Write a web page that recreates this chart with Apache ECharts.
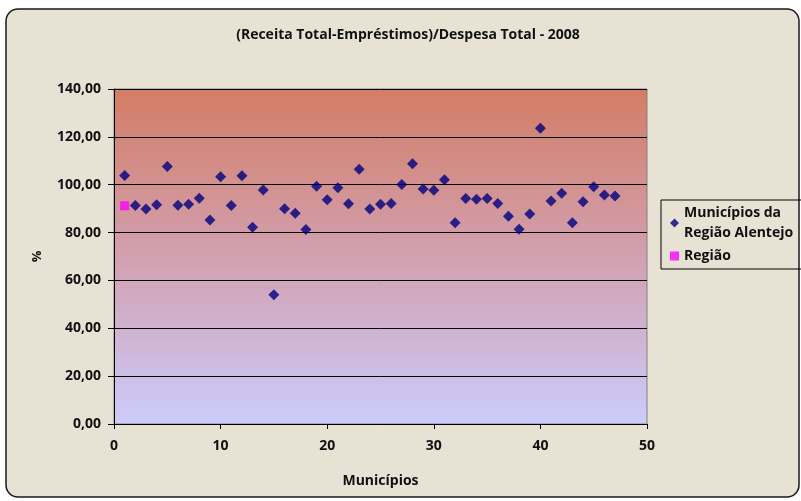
<!DOCTYPE html>
<html>
<head>
<meta charset="utf-8">
<script src="https://cdn.jsdelivr.net/npm/echarts@6/dist/echarts.min.js"></script>
<style>
  html, body { margin: 0; padding: 0; background: #ffffff; }
  #container { width: 801px; height: 501px; }
</style>
</head>
<body>
<div id="container"></div>
<script>
// (Receita Total-Empréstimos)/Despesa Total, por município
const municipios = [
  103.8, 91.3, 89.8, 91.6, 107.6, 91.4, 91.8, 94.3, 85.3, 103.3,
  91.3, 103.7, 82.2, 97.8, 54.0, 90.0, 88.1, 81.3, 99.4, 93.7,
  98.7, 92.0, 106.5, 89.8, 91.8, 92.1, 100.1, 108.8, 98.2, 97.7,
  102.1, 84.1, 94.2, 93.9, 94.2, 92.1, 86.8, 81.4, 87.8, 123.6,
  93.2, 96.4, 84.1, 92.9, 99.1, 95.7, 95.3
];
const regiao = [[1, 91.2]];
const yTicks = [0, 20, 40, 60, 80, 100, 120, 140];
const xTicks = [0, 10, 20, 30, 40, 50];

const font = "'Open Sans', Lato, sans-serif";

const myChart = echarts.init(document.getElementById("container"), null, {
  renderer: "canvas",
});

const option = {
  backgroundColor: "#ffffff",
  textStyle: { fontFamily: font },
  graphic: [
    {
      type: "rect",
      z: -100,
      silent: true,
      shape: { x: 6, y: 9, width: 793, height: 488, r: 12 },
      style: { fill: "#e8e2d5", stroke: "#1a1a1a", lineWidth: 1.5 },
    },
  ],
  title: {
    text: "(Receita Total-Empréstimos)/Despesa Total - 2008",
    left: 403,
    textAlign: "center",
    top: 23,
    textStyle: { fontFamily: font, fontSize: 14, fontWeight: "bold", color: "#111" },
  },
  legend: {
    orient: "vertical",
    left: 661,
    top: 200,
    padding: [3, 12, 3, 9],
    itemGap: 3,
    itemWidth: 9,
    itemHeight: 9,
    borderColor: "#000",
    borderWidth: 1,
    textStyle: { fontFamily: font, fontSize: 14, fontWeight: "bold", color: "#111", lineHeight: 20 },
    formatter: (name) =>
      name === "Municípios da Região Alentejo" ? "Municípios da\nRegião Alentejo" : name,
    data: [
      { name: "Municípios da Região Alentejo", icon: "diamond" },
      { name: "Região", icon: "rect" },
    ],
  },
  grid: {
    left: 114,
    right: 154,
    top: 89,
    bottom: 77,
    show: true,
    borderColor: "#808080",
    borderWidth: 1,
    backgroundColor: new echarts.graphic.LinearGradient(0, 0, 0, 1, [
      { offset: 0, color: "#d37d65" },
      { offset: 0.5, color: "#d2a0b0" },
      { offset: 1, color: "#ccccfb" },
    ]),
  },
  xAxis: {
    type: "value",
    min: xTicks[0],
    max: xTicks[xTicks.length - 1],
    interval: 10,
    name: "Municípios",
    nameLocation: "middle",
    nameGap: 50,
    nameTextStyle: { fontFamily: font, fontSize: 14, fontWeight: "bold", color: "#111" },
    axisLine: { lineStyle: { color: "#000", width: 1 } },
    axisTick: { length: 5, lineStyle: { color: "#000" } },
    axisLabel: { margin: 15, fontFamily: font, fontSize: 14, fontWeight: "bold", color: "#111" },
    splitLine: { show: false },
  },
  yAxis: {
    type: "value",
    min: yTicks[0],
    max: yTicks[yTicks.length - 1],
    interval: 20,
    name: "%",
    nameLocation: "middle",
    nameRotate: 90,
    nameGap: 70,
    nameTextStyle: { fontFamily: font, fontSize: 13, fontWeight: "bold", color: "#111" },
    axisLine: { show: true, lineStyle: { color: "#000", width: 1 } },
    axisTick: { show: true, length: 6, lineStyle: { color: "#000" } },
    axisLabel: {
      margin: 13,
      fontFamily: font,
      fontSize: 14,
      fontWeight: "bold",
      color: "#111",
      formatter: (v) => v.toFixed(2).replace(".", ","),
    },
    splitLine: { show: true, lineStyle: { color: "#000", width: 1 } },
  },
  series: [
    {
      name: "Municípios da Região Alentejo",
      type: "scatter",
      symbol: "diamond",
      symbolSize: 11,
      itemStyle: { color: "#000080" },
      data: municipios.map((v, i) => [i + 1, v]),
    },
    {
      name: "Região",
      type: "scatter",
      symbol: "rect",
      symbolSize: 9,
      itemStyle: { color: "#ff00ff" },
      data: regiao,
    },
  ],
};

myChart.setOption(option);
</script>
</body>
</html>
